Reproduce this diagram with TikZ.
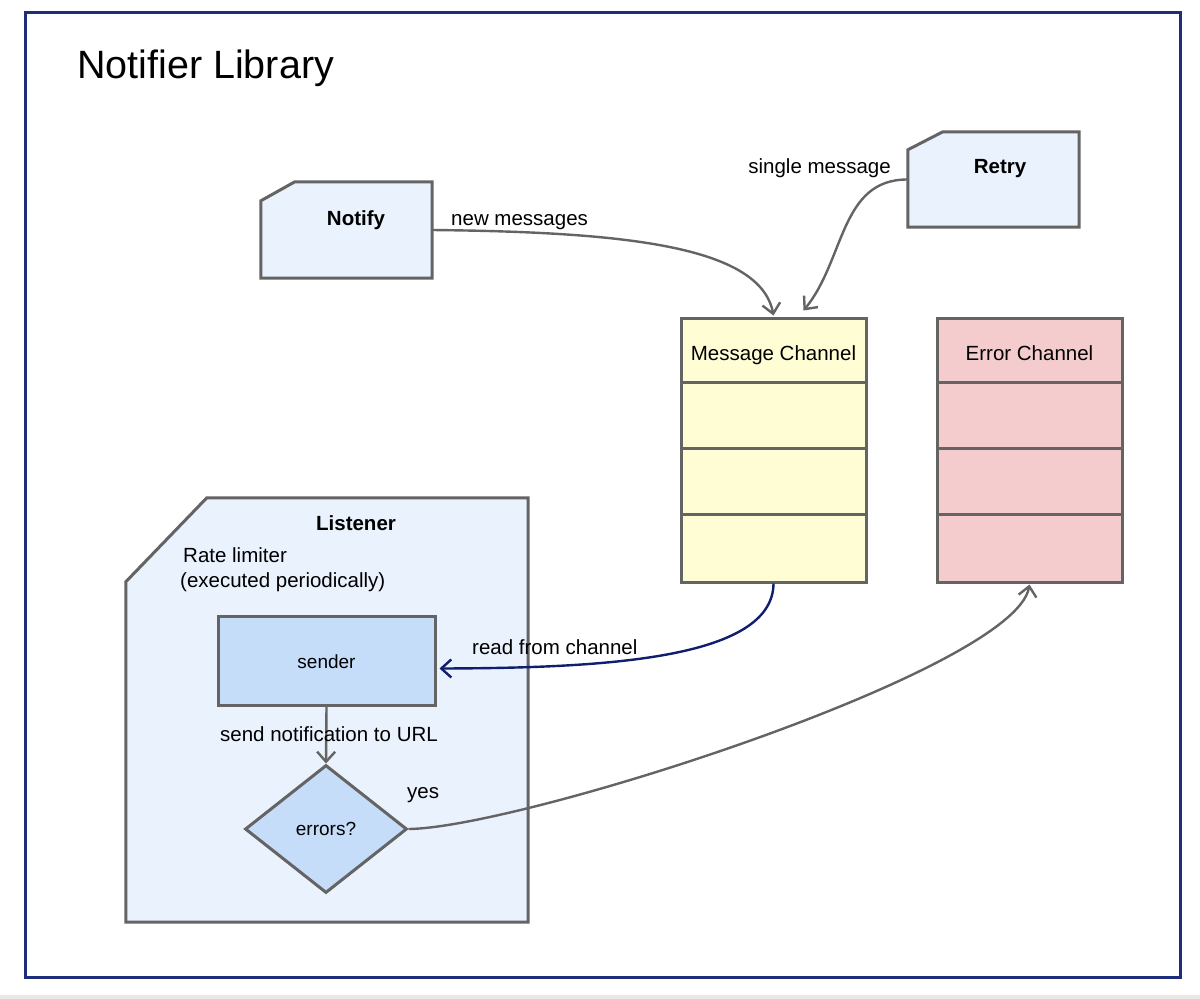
\documentclass[tikz,border=0pt]{standalone}
\usepackage{fontspec}
\setmainfont{Liberation Sans}
\usetikzlibrary{arrows.meta,shapes.geometric,calc}
\definecolor{frameblue}{RGB}{31,45,125}
\definecolor{readblue}{RGB}{16,30,110}
\definecolor{linegray}{RGB}{100,100,100}
\definecolor{cardfill}{RGB}{234,242,253}
\definecolor{senderfill}{RGB}{197,221,249}
\definecolor{msgfill}{RGB}{254,253,212}
\definecolor{errfill}{RGB}{245,204,205}
\definecolor{stripgray}{RGB}{232,232,232}
\begin{document}
\begin{tikzpicture}[x=1pt,y=-1pt,
  lbl/.style={font=\fontsize{20.5}{24}\selectfont, inner sep=0pt},
  blbl/.style={font=\fontsize{20.5}{24}\selectfont\bfseries, inner sep=0pt},
  slbl/.style={font=\fontsize{19}{22}\selectfont, inner sep=0pt},
  holder/.style={draw=none, inner sep=0pt},
  outline/.style={draw=linegray, line width=3pt, line join=miter},
  conn/.style={draw=linegray, line width=2.4pt, -{Straight Barb[length=10pt,width=18pt]}},
]
\useasboundingbox (0,0) rectangle (1200,999);
\fill[white] (0,0) rectangle (1200,999);
\fill[stripgray] (0,995) rectangle (1200,999);

% outer frame
\node[draw=frameblue, line width=3pt, inner sep=0pt, minimum width=1155pt, minimum height=965pt] (frame) at (602.5,494.5) {};
\node[anchor=base west, font=\fontsize{39.5}{44}\selectfont, inner sep=0pt] (title) at (77,78) {Notifier Library};

% Notify card
\node[holder, minimum width=171pt, minimum height=96pt] (notify) at (346.5,230) {};
\draw[outline, fill=cardfill] ($(notify.north west)+(0,19)$) -- ($(notify.north west)+(34,0)$) -- (notify.north east) -- (notify.south east) -- (notify.south west) -- cycle;
\node[blbl, anchor=base] (notifylbl) at (356,225) {Notify};

% Retry card
\node[holder, minimum width=171pt, minimum height=95pt] (retry) at (993.5,179.5) {};
\draw[outline, fill=cardfill] ($(retry.north west)+(0,18)$) -- ($(retry.north west)+(35,0)$) -- (retry.north east) -- (retry.south east) -- (retry.south west) -- cycle;
\node[blbl, anchor=base] (retrylbl) at (1000,173) {Retry};

% Channels
\node[draw=linegray, line width=3pt, fill=msgfill, inner sep=0pt, minimum width=185pt, minimum height=264pt] (msg) at (773.5,450) {};
\node[draw=linegray, line width=3pt, fill=errfill, inner sep=0pt, minimum width=185pt, minimum height=264pt] (err) at (1029.5,450) {};
\foreach \d in {66,132,198} {
  \draw[draw=linegray, line width=3pt] ($(msg.north west)+(0,\d)$) -- ($(msg.north east)+(0,\d)$);
  \draw[draw=linegray, line width=3pt] ($(err.north west)+(0,\d)$) -- ($(err.north east)+(0,\d)$);
}
\node[lbl, anchor=base] (msglbl) at (773.5,360) {Message Channel};
\node[lbl, anchor=base] (errlbl) at (1029.5,360) {Error Channel};

% Listener
\node[holder, minimum width=402pt, minimum height=424pt] (listener) at (327,710) {};
\draw[outline, fill=cardfill] ($(listener.north west)+(0,84)$) -- ($(listener.north west)+(81,0)$) -- (listener.north east) -- (listener.south east) -- (listener.south west) -- cycle;
\node[blbl, anchor=base] (listenerlbl) at (356,530) {Listener};
\node[lbl, anchor=base west] (rate1) at (183,562) {Rate limiter};
\node[lbl, anchor=base west] (rate2) at (180,587) {(executed periodically)};

\node[draw=linegray, line width=3pt, fill=senderfill, inner sep=0pt, minimum width=217pt, minimum height=89pt] (sender) at (326.5,660.5) {};
\node[slbl, anchor=base] (senderlbl) at (326.5,668) {sender};
\node[diamond, draw=linegray, line width=3pt, fill=senderfill, inner sep=0pt, minimum width=162pt, minimum height=128pt] (dia) at (326,829) {};
\node[slbl, anchor=base] (dialbl) at (326,835) {errors?};

% connectors
\draw[conn] (notify.east) .. controls (620,232) and (760,245) .. ($(msg.north)+(0,-1)$);
\node[lbl, anchor=base west] (newlbl) at (451,225) {new messages};
\draw[conn] (retry.west) .. controls (840,179) and (845,260) .. ($(msg.north)+(30,-6)$);
\node[lbl, anchor=base east] (singlelbl) at (891,173) {single message};
\draw[conn] (sender.south) -- (dia.north);
\node[lbl, anchor=base] (sendlbl) at (329,741) {send notification to URL};
\draw[conn, draw=readblue] (msg.south) .. controls (773,660) and (600,668) .. ($(sender.east)+(3,8)$);
\node[lbl, anchor=base west] (readlbl) at (472,654) {read from channel};
\draw[conn] (dia.east) .. controls (520,828) and (1015,670) .. ($(err.south)+(0,1)$);
\node[lbl, anchor=base west] (yeslbl) at (407,798) {yes};
\end{tikzpicture}
\end{document}
